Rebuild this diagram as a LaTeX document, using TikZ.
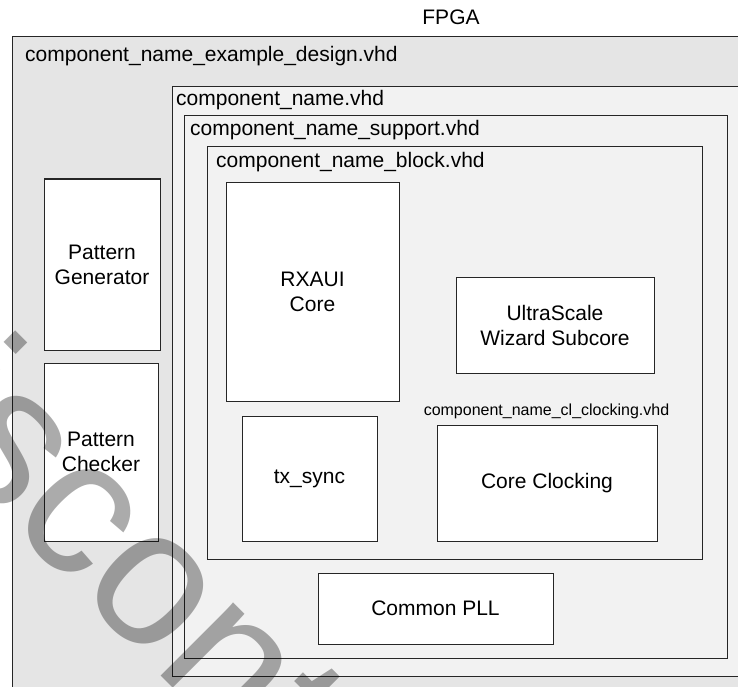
\documentclass[tikz,border=0pt]{standalone}
\usepackage{fontspec}
\setmainfont{Liberation Sans}

\begin{document}
\begin{tikzpicture}[x=1pt, y=-1pt,
  frame/.style={draw=black!85, line width=1pt},
  blk/.style={frame, fill=white, align=center, inner sep=0pt,
    font=\fontsize{21}{25}\selectfont},
  title/.style={anchor=west, inner sep=0pt, font=\fontsize{21}{25}\selectfont}]

  \useasboundingbox (0,0) rectangle (738,687);
  \clip (0,0) rectangle (738,687);

  % --- 1. nested file frames ---
  \draw[frame, fill=black!10] (12,37) rectangle (760,710);
  \draw[frame, fill=black!5] (172,87) rectangle (760,676);
  \draw[frame, fill=black!5] (184,116) rectangle (727,658);
  \draw[frame, fill=black!5] (207,147) rectangle (702,559);

  % --- 2. frame titles ---
  \node[font=\fontsize{21}{25}\selectfont, inner sep=0pt] (fpga) at (451,17) {FPGA};
  \node[title] (design) at (25,56) {component\_name\_example\_design.vhd};
  \node[title] (top) at (176,100) {component\_name.vhd};
  \node[title] (support) at (190,130) {component\_name\_support.vhd};
  \node[title] (block) at (216,162) {component\_name\_block.vhd};

  % --- 3. example design blocks ---
  \node[blk, minimum width=116pt, minimum height=171pt] (patgen) at (102,264.5) {Pattern\\Generator};
  \node[blk, minimum width=114pt, minimum height=178pt] (patchk) at (101,452) {Pattern\\Checker};

  % --- 4. core level blocks ---
  \node[blk, minimum width=173pt, minimum height=219pt] (rxaui) at (312.5,292) {RXAUI\\Core};
  \node[blk, minimum width=135pt, minimum height=125pt] (txsync) at (309.5,478.5) {tx\_sync};
  \node[blk, minimum width=198pt, minimum height=96pt] (wizard) at (555,325) {UltraScale\\Wizard Subcore};
  \node[blk, minimum width=220pt, minimum height=116pt] (clocking) at (547,483) {Core Clocking};
  \node[inner sep=0pt, font=\fontsize{16}{19}\selectfont] (clkfile) at (546.5,411) {component\_name\_cl\_clocking.vhd};

  % --- 5. support level block ---
  \node[blk, minimum width=235pt, minimum height=71pt] (pll) at (435.5,608.5) {Common PLL};

  % --- 6. watermark ---
  \node[rotate=-45, text=black, text opacity=0.33, inner sep=0pt,
    font=\fontsize{195}{195}\selectfont] (stamp) at (255,671) {Discontinued};

\end{tikzpicture}
\end{document}
